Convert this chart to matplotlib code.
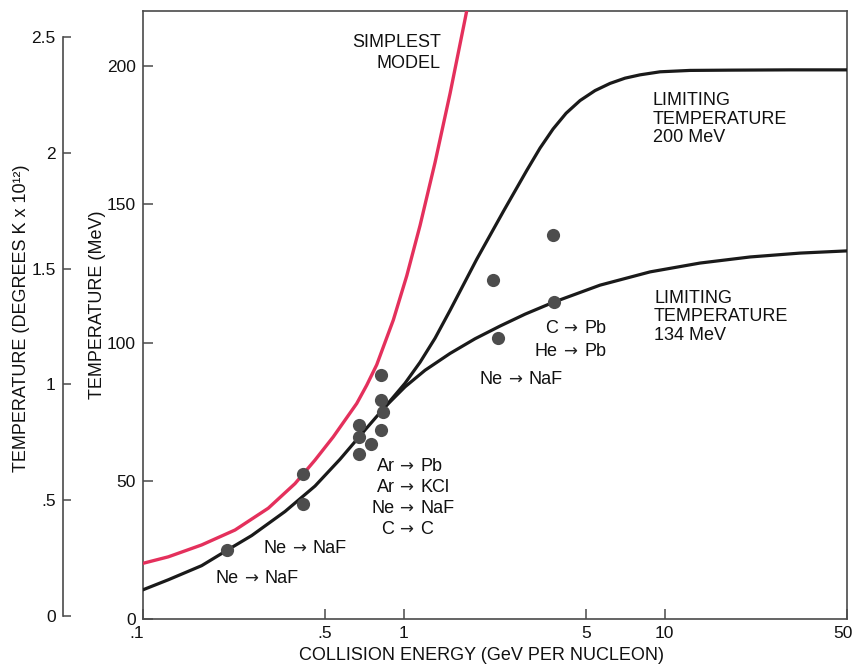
import matplotlib
matplotlib.use("Agg")
import matplotlib.pyplot as plt
from matplotlib.ticker import NullLocator
from matplotlib.transforms import ScaledTranslation

plt.rcParams['font.family'] = ['Liberation Sans', 'DejaVu Sans']

# Collision energy (GeV per nucleon) and temperature (MeV) along each model curve
simplest_E = [0.100, 0.1256, 0.1685, 0.2262, 0.3034, 0.384, 0.458, 0.538, 0.662,
              0.7228, 0.7895, 0.914, 1.029, 1.157, 1.3206, 1.508, 1.7206, 1.798]
simplest_T = [20.1, 22.5, 26.8, 32.2, 40.1, 49.0, 57.5, 65.9, 78.0,
              84.6, 92.0, 108.2, 124.2, 142.4, 165.2, 190.2, 217.0, 226.2]

limit134_E = [0.100, 0.1256, 0.1685, 0.2102, 0.2621, 0.3516, 0.458, 0.5711, 0.7119,
              0.8494, 1.0133, 1.209, 1.508, 1.879, 2.343, 2.921, 3.75, 5.66, 8.80,
              13.68, 21.27, 33.05, 50.0]
limit134_T = [10.5, 14.2, 19.3, 24.8, 30.2, 38.9, 48.1, 57.8, 68.4,
              76.75, 84.0, 90.0, 96.1, 101.4, 106.0, 110.3, 114.6, 120.8, 125.6,
              128.8, 131.0, 132.4, 133.2]

limit200_E = [0.8494, 1.0133, 1.157, 1.3206, 1.508, 1.908, 2.413, 2.965, 3.334,
              3.740, 4.195, 4.746, 5.416, 6.183, 7.058, 8.056, 9.612, 12.52,
              17.82, 30.26, 50.0]
limit200_T = [76.75, 85.3, 92.9, 101.6, 111.7, 130.2, 147.5, 162.3, 170.4,
              177.3, 183.0, 187.6, 191.2, 193.8, 195.7, 196.9, 198.0, 198.5,
              198.6, 198.7, 198.7]

# Measured temperatures
meas_E = [0.210, 0.413, 0.413, 0.677, 0.677, 0.674, 0.749, 0.818, 0.818, 0.834,
          0.818, 2.21, 2.31, 3.73, 3.77]
meas_T = [24.9, 52.4, 41.6, 70.1, 65.8, 59.7, 63.3, 88.2, 79.2, 74.9,
          68.3, 122.6, 101.5, 139.1, 114.7]

x_ticks = [0.1, 0.5, 1, 5, 10, 50]
x_tick_labels = ['.1', '.5', '1', '5', '10', '50']
y_ticks = [0, 50, 100, 150, 200]
y_tick_labels = ['0', '50', '100', '150', '200']
k_ticks = [0, 0.5, 1, 1.5, 2, 2.5]
k_tick_labels = ['0', '.5', '1', '1.5', '2', '2.5']

W, H = 852, 667
RED = '#e4305c'
INK = '#1a1a1a'
SPINE = '#4a4a4a'
DOT = '#4d4d4d'

fig = plt.figure(figsize=(W / 100, H / 100), dpi=100)
fig.patch.set_facecolor('white')


def px(x, y):
    return x / W, 1 - y / H


ax = fig.add_axes([142.5 / W, (H - 619) / H, (847 - 142.5) / W, (619 - 11) / H])
ax.set_xscale('log')
ax.set_xlim(0.1, 50)
ax.set_ylim(0, 220)

ax.plot(simplest_E, simplest_T, color=RED, lw=2.4, solid_capstyle='round',
        solid_joinstyle='round', zorder=3)
ax.plot(limit134_E, limit134_T, color=INK, lw=2.3, solid_capstyle='round',
        solid_joinstyle='round', zorder=3)
ax.plot(limit200_E, limit200_T, color=INK, lw=2.3, solid_capstyle='round',
        solid_joinstyle='round', zorder=3)
ax.plot(meas_E, meas_T, 'o', color=DOT, ms=9.5, mec='none', zorder=4)

ax.set_xticks(x_ticks)
ax.set_xticklabels(x_tick_labels)
ax.xaxis.set_minor_locator(NullLocator())
ax.set_yticks(y_ticks)
ax.set_yticklabels(y_tick_labels)
ax.tick_params(direction='in', length=7, width=1.1, color=SPINE, labelsize=12.5,
               pad=5, labelcolor='#111111')
for s in ax.spines.values():
    s.set_color(SPINE)
    s.set_linewidth(1.2)

# nudge the end labels of the energy axis so they sit inside the figure
xlabels = ax.get_xticklabels()
xlabels[0].set_transform(xlabels[0].get_transform()
                         + ScaledTranslation(-6 / 100, 0, fig.dpi_scale_trans))
xlabels[-1].set_transform(xlabels[-1].get_transform()
                          + ScaledTranslation(-4 / 100, 0, fig.dpi_scale_trans))

# Secondary temperature scale in kelvin
ak = fig.add_axes([62.5 / W, (H - 616) / H, 0.0001, (616 - 37) / H])
ak.set_ylim(0, 2.5)
ak.set_xticks([])
ak.set_yticks(k_ticks)
ak.set_yticklabels(k_tick_labels)
ak.patch.set_visible(False)
for side in ('top', 'right', 'bottom'):
    ak.spines[side].set_visible(False)
ak.spines['left'].set_color(SPINE)
ak.spines['left'].set_linewidth(1.2)
ak.tick_params(axis='y', direction='in', length=6, width=1.1, color=SPINE,
               labelsize=12.5, pad=5, labelcolor='#111111')

txt = dict(fontsize=13, color='#111111')

fig.text(*px(22, 318), 'TEMPERATURE (DEGREES K x 10¹²)', rotation=90,
         ha='center', va='center', **txt)
fig.text(*px(98, 305), 'TEMPERATURE (MeV)', rotation=90,
         ha='center', va='center', **txt)
fig.text(*px(482, 656), 'COLLISION ENERGY (GeV PER NUCLEON)',
         ha='center', va='center', **txt)

fig.text(*px(441, 53), 'SIMPLEST\nMODEL', ha='right', va='center',
         multialignment='right', linespacing=1.25, **txt)
fig.text(*px(653, 119), 'LIMITING\nTEMPERATURE\n200 MeV', ha='left', va='center',
         linespacing=1.1, **txt)
fig.text(*px(654, 317), 'LIMITING\nTEMPERATURE\n134 MeV', ha='left', va='center',
         linespacing=1.1, **txt)


def reaction(beam, target, ax_x, y_mid):
    """Write 'beam → target' with the arrow centred at ax_x (pixels)."""
    base = y_mid + 6
    fig.text(*px(ax_x - 13, base), beam, ha='right', va='baseline', **txt)
    fig.text(*px(ax_x - 1.2, base + 0.5), '→', ha='center', va='baseline',
             family='DejaVu Sans', fontsize=12, color='#222222')
    fig.text(*px(ax_x + 13, base), target, ha='left', va='baseline', **txt)


reaction('C', 'Pb', 571, 327)
reaction('He', 'Pb', 571, 350)
reaction('Ne', 'NaF', 516, 378)

# Reaction list with the arrows stacked in one column
for beam, target, yy in [('Ar', 'Pb', 465), ('Ar', 'KCl', 486),
                         ('Ne', 'NaF', 507), ('C', 'C', 528)]:
    reaction(beam, target, 407.5, yy)

reaction('Ne', 'NaF', 300, 547)
reaction('Ne', 'NaF', 252, 577)

fig.savefig('out.png', dpi=100, facecolor='white')
